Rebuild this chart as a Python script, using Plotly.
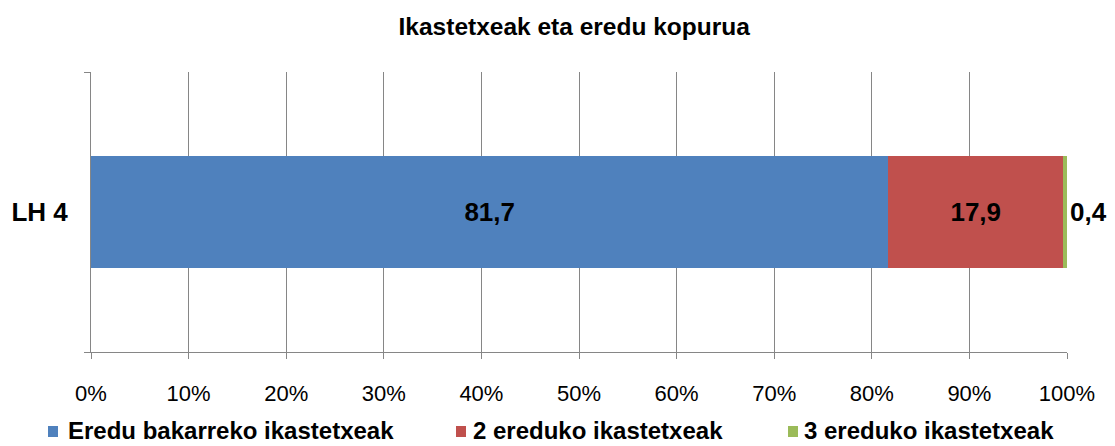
import plotly.graph_objects as go

categories = ["LH 4"]
series_names = ["Eredu bakarreko ikastetxeak", "2 ereduko ikastetxeak", "3 ereduko ikastetxeak"]
series_values = [[81.7], [17.9], [0.4]]
colors = ["#4F81BD", "#C0504D", "#9BBB59"]
text_positions = ["inside", "inside", "outside"]
tick_vals = [0, 10, 20, 30, 40, 50, 60, 70, 80, 90, 100]
tick_text = [f"{v}%" for v in tick_vals]
title = "Ikastetxeak eta eredu kopurua"

FONT = "Arial, Liberation Sans, sans-serif"
W, H = 1115, 446
ML, MR, MT, MB = 91, 48, 72, 94
PW, PH = W - ML - MR, H - MT - MB

fig = go.Figure()
for name, vals, col, tp in zip(series_names, series_values, colors, text_positions):
    fig.add_trace(go.Bar(
        y=categories, x=vals, name=name, orientation="h",
        marker=dict(color=col, line=dict(width=0)),
        text=[f"{v:.1f}".replace(".", ",") for v in vals],
        textposition=tp, insidetextanchor="middle",
        textfont=dict(family=FONT, size=26, color="black", weight="bold"),
        outsidetextfont=dict(family=FONT, size=26, color="black", weight="bold"),
        cliponaxis=False, width=0.4, showlegend=False,
    ))

# custom legend (swatch + label) placed like the original
swatch_px = [48, 456, 788]
label_px = [67, 472, 803]
def px_x(p):
    return (p - ML) / PW
def px_y(p):
    return (H - MB - p) / PH
for name, col, sx, lx in zip(series_names, colors, swatch_px, label_px):
    fig.add_shape(type="rect", xref="paper", yref="paper",
                  x0=px_x(sx), x1=px_x(sx + 10), y0=px_y(437), y1=px_y(426),
                  fillcolor=col, line=dict(width=0))
    fig.add_annotation(text=name, xref="paper", yref="paper",
                       x=px_x(lx), y=px_y(431), xanchor="left", yanchor="middle",
                       showarrow=False, borderpad=0,
                       font=dict(family=FONT, size=24, color="black", weight="bold"))

fig.update_layout(
    barmode="stack",
    width=W, height=H,
    margin=dict(l=ML, r=MR, t=MT, b=MB, autoexpand=False),
    paper_bgcolor="white", plot_bgcolor="white",
    uniformtext=dict(mode=False),
    title=dict(text=title, x=0.515, xanchor="center", y=0.94, yanchor="middle",
               font=dict(family=FONT, size=24.5, color="black", weight="bold")),
    xaxis=dict(range=[0, 100], tickvals=tick_vals, ticktext=tick_text,
               showgrid=True, gridcolor="#868686", gridwidth=1,
               showline=True, linecolor="#868686", linewidth=1,
               ticks="outside", ticklen=6, tickcolor="#868686",
               ticklabelstandoff=16, automargin=False,
               tickfont=dict(family=FONT, size=22, color="black"),
               zeroline=False, fixedrange=True),
    yaxis=dict(showline=True, linecolor="#868686", linewidth=1,
               ticks="outside", ticklen=6, tickcolor="#868686",
               tickson="boundaries", ticklabelstandoff=17, automargin=False,
               tickfont=dict(family=FONT, size=26, color="black", weight="bold"),
               showgrid=False, fixedrange=True),
    showlegend=False,
)
fig.write_html("out.html", config={"displayModeBar": False},
               post_script="document.body.style.margin='0';")
